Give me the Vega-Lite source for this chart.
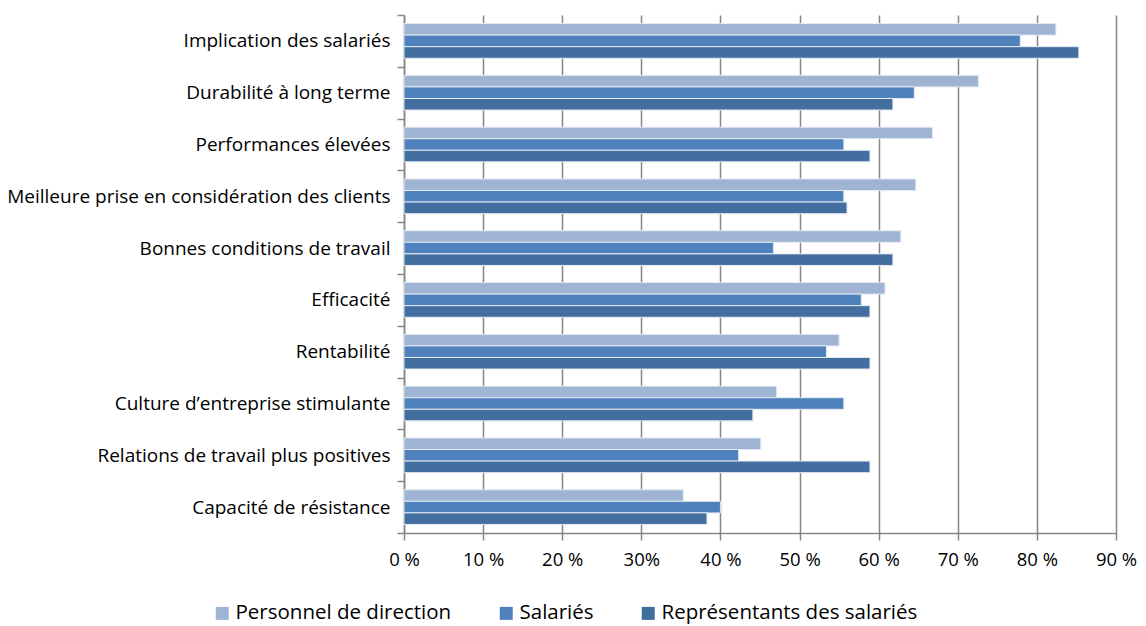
{
  "$schema": "https://vega.github.io/schema/vega-lite/v6.json",
  "width": 712,
  "height": 518,
  "autosize": "none",
  "padding": {"left": 404, "top": 15, "right": 30, "bottom": 93},
  "background": "white",
  "config": {
    "view": {"stroke": null},
    "font": "Open Sans",
    "axis": {"labelFont": "Open Sans", "labelColor": "#000000"}
  },
  "data": {
    "values": [
      {"critere": "Implication des salariés", "groupe": "Personnel de direction", "part": 82.4},
      {"critere": "Implication des salariés", "groupe": "Salariés", "part": 77.9},
      {"critere": "Implication des salariés", "groupe": "Représentants des salariés", "part": 85.3},
      {"critere": "Durabilité à long terme", "groupe": "Personnel de direction", "part": 72.6},
      {"critere": "Durabilité à long terme", "groupe": "Salariés", "part": 64.5},
      {"critere": "Durabilité à long terme", "groupe": "Représentants des salariés", "part": 61.8},
      {"critere": "Performances élevées", "groupe": "Personnel de direction", "part": 66.8},
      {"critere": "Performances élevées", "groupe": "Salariés", "part": 55.6},
      {"critere": "Performances élevées", "groupe": "Représentants des salariés", "part": 58.9},
      {"critere": "Meilleure prise en considération des clients", "groupe": "Personnel de direction", "part": 64.7},
      {"critere": "Meilleure prise en considération des clients", "groupe": "Salariés", "part": 55.6},
      {"critere": "Meilleure prise en considération des clients", "groupe": "Représentants des salariés", "part": 56.0},
      {"critere": "Bonnes conditions de travail", "groupe": "Personnel de direction", "part": 62.8},
      {"critere": "Bonnes conditions de travail", "groupe": "Salariés", "part": 46.7},
      {"critere": "Bonnes conditions de travail", "groupe": "Représentants des salariés", "part": 61.8},
      {"critere": "Efficacité", "groupe": "Personnel de direction", "part": 60.8},
      {"critere": "Efficacité", "groupe": "Salariés", "part": 57.8},
      {"critere": "Efficacité", "groupe": "Représentants des salariés", "part": 58.9},
      {"critere": "Rentabilité", "groupe": "Personnel de direction", "part": 55.0},
      {"critere": "Rentabilité", "groupe": "Salariés", "part": 53.4},
      {"critere": "Rentabilité", "groupe": "Représentants des salariés", "part": 58.9},
      {"critere": "Culture d’entreprise stimulante", "groupe": "Personnel de direction", "part": 47.1},
      {"critere": "Culture d’entreprise stimulante", "groupe": "Salariés", "part": 55.6},
      {"critere": "Culture d’entreprise stimulante", "groupe": "Représentants des salariés", "part": 44.1},
      {"critere": "Relations de travail plus positives", "groupe": "Personnel de direction", "part": 45.1},
      {"critere": "Relations de travail plus positives", "groupe": "Salariés", "part": 42.3},
      {"critere": "Relations de travail plus positives", "groupe": "Représentants des salariés", "part": 58.9},
      {"critere": "Capacité de résistance", "groupe": "Personnel de direction", "part": 35.3},
      {"critere": "Capacité de résistance", "groupe": "Salariés", "part": 40.0},
      {"critere": "Capacité de résistance", "groupe": "Représentants des salariés", "part": 38.3}
    ]
  },
  "mark": {"type": "bar", "stroke": "#e3e9f2", "strokeWidth": 1},
  "encoding": {
    "y": {
      "field": "critere",
      "type": "nominal",
      "sort": null,
      "scale": {"paddingInner": 0, "paddingOuter": 0},
      "axis": {
        "title": null,
        "tickBand": "extent",
        "tickSize": 7,
        "tickWidth": 1.5,
        "tickColor": "#868686",
        "domainColor": "#868686",
        "domainWidth": 1.5,
        "labelFontSize": 19,
        "labelPadding": 7,
        "labelLimit": 600
      }
    },
    "yOffset": {
      "field": "groupe",
      "type": "nominal",
      "sort": ["Personnel de direction", "Salariés", "Représentants des salariés"],
      "scale": {"paddingInner": 0, "paddingOuter": 0.74}
    },
    "x": {
      "field": "part",
      "type": "quantitative",
      "scale": {"domain": [0, 90], "nice": false},
      "axis": {
        "title": null,
        "values": [0, 10, 20, 30, 40, 50, 60, 70, 80, 90],
        "labelExpr": "datum.value == 30 ? '30%' : datum.value + ' %'",
        "grid": true,
        "gridColor": "#868686",
        "gridWidth": 1.5,
        "tickSize": 7,
        "tickWidth": 1.5,
        "tickColor": "#868686",
        "domainColor": "#868686",
        "domainWidth": 1.5,
        "labelFontSize": 18.5,
        "labelPadding": 10,
        "labelFlush": false
      }
    },
    "color": {
      "field": "groupe",
      "type": "nominal",
      "scale": {
        "domain": ["Personnel de direction", "Salariés", "Représentants des salariés"],
        "range": ["#9fb4d2", "#4f81bd", "#426fa0"]
      },
      "legend": {
        "title": null,
        "orient": "none",
        "direction": "horizontal",
        "legendX": -192,
        "legendY": 588,
        "symbolType": "square",
        "symbolSize": 169,
        "symbolStrokeWidth": 0,
        "labelFont": "Open Sans",
        "labelFontSize": 20.5,
        "labelColor": "#000000",
        "labelOffset": 3,
        "columnPadding": 44,
        "labelLimit": 400
      }
    }
  }
}
